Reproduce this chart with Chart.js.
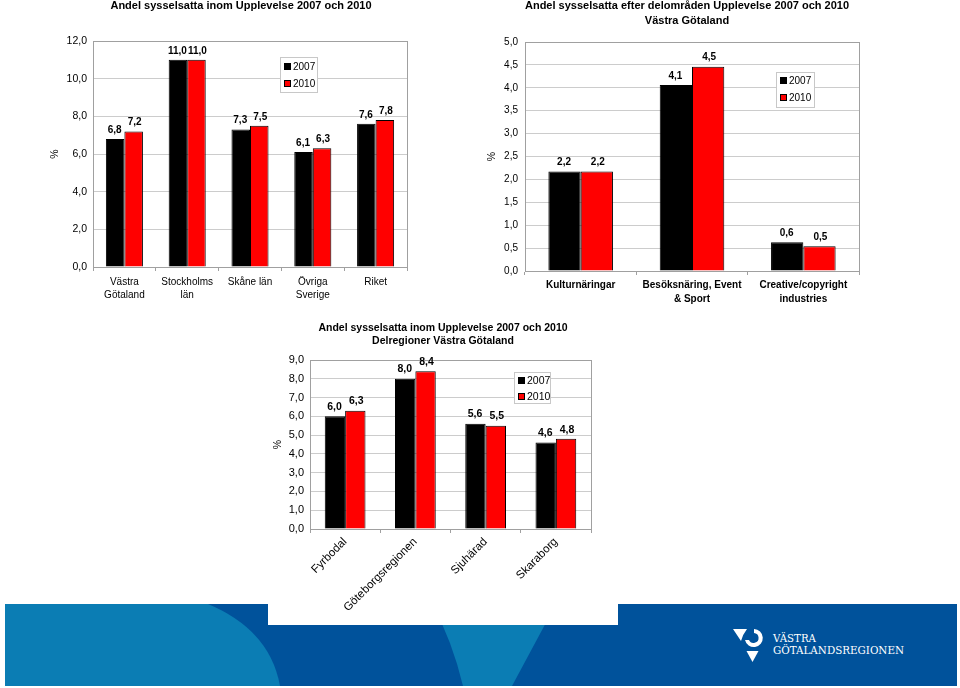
<!DOCTYPE html>
<html>
<head>
<meta charset="utf-8">
<script src="https://cdn.jsdelivr.net/npm/chart.js@4.4.1/dist/chart.umd.min.js"></script>
<style>
  html, body { margin: 0; padding: 0; background: #fff; }
  body { width: 960px; height: 688px; position: relative; overflow: hidden; font-family: "Liberation Sans", Arial, sans-serif; }
  .box { position: absolute; }
  .title { position: absolute; width: 420px; text-align: center; font-weight: bold; color: #000; white-space: nowrap; }
  #band { position: absolute; left: 0; top: 0; z-index: 0; }
  #c1, #c2 { z-index: 1; }
  #c3 { z-index: 2; background: #fff; }
  .title { z-index: 3; }
</style>
</head>
<body>

<svg id="band" width="960" height="688">
  <rect x="5" y="604" width="952" height="82" fill="#00529b"/>
  <path d="M5 604 H208 Q270 630 280 686 H5 Z" fill="#0b7db4"/>
  <path d="M432 604 H556 L512 686 H463 Q452 640 432 604 Z" fill="#0b7db4"/>
  <g fill="#fff">
    <path d="M733 629 L747 629 Q743 634 741 641 Z"/>
    <path d="M754 629 A9 9 0 1 1 745 640 L749 640 A5 5 0 1 0 754 633 Z"/>
    <path d="M746.5 651 L758.5 651 L752.5 662 Z"/>
  </g>
  <g fill="#fff" font-family="DejaVu Serif, serif" font-size="10.5">
    <text x="773" y="642" textLength="43" lengthAdjust="spacingAndGlyphs">VÄSTRA</text>
    <text x="773" y="654" textLength="131" lengthAdjust="spacingAndGlyphs">GÖTALANDSREGIONEN</text>
  </g>
</svg>

<div class="title" style="left:31px;top:-2px;font-size:11px;line-height:14px;">Andel sysselsatta inom Upplevelse 2007 och 2010</div>
<div class="title" style="left:477px;top:-2.5px;font-size:11px;line-height:15px;">Andel sysselsatta efter delområden Upplevelse 2007 och 2010<br>Västra Götaland</div>
<div class="title" style="left:233px;top:320.5px;font-size:10.5px;line-height:13px;">Andel sysselsatta inom Upplevelse 2007 och 2010<br>Delregioner Västra Götaland</div>

<div class="box" id="c1" style="left:0;top:0;width:480px;height:310px;"><canvas id="chart1"></canvas></div>
<div class="box" id="c2" style="left:480px;top:0;width:480px;height:310px;"><canvas id="chart2"></canvas></div>
<div class="box" id="c3" style="left:268px;top:310px;width:350px;height:315px;"><canvas id="chart3"></canvas></div>

<script>
// series names
var years = ['2007', '2010'];

// chart 1: regions
var regions = [['Västra', 'Götaland'], ['Stockholms', 'län'], 'Skåne län', ['Övriga', 'Sverige'], 'Riket'];
var regions2007 = [6.8, 11.0, 7.3, 6.1, 7.6];
var regions2010 = [7.2, 11.0, 7.5, 6.3, 7.8];

// chart 2: sub areas, Västra Götaland
var areas = ['Kulturnäringar', ['Besöksnäring, Event', '& Sport'], ['Creative/copyright', 'industries']];
var areas2007 = [2.17, 4.06, 0.63];
var areas2010 = [2.17, 4.46, 0.54];

// chart 3: sub regions
var subRegions = ['Fyrbodal', 'Göteborgsregionen', 'Sjuhärad', 'Skaraborg'];
var sub2007 = [6.0, 8.0, 5.6, 4.6];
var sub2010 = [6.3, 8.4, 5.5, 4.8];

var FONT = '"Liberation Sans", Arial, sans-serif';
Chart.defaults.font.family = FONT;
Chart.defaults.color = '#000';

function comma(v) {
  return Number(v).toFixed(1).replace('.', ',');
}

// value labels above bars
var barValues = {
  id: 'barValues',
  afterDatasetsDraw: function (chart, args, opts) {
    var ctx = chart.ctx;
    ctx.save();
    ctx.font = 'bold ' + opts.size + 'px ' + FONT;
    ctx.fillStyle = '#000';
    ctx.textAlign = 'center';
    ctx.textBaseline = 'bottom';
    chart.data.datasets.forEach(function (ds, i) {
      chart.getDatasetMeta(i).data.forEach(function (bar, j) {
        var dx = i === 0 ? -0.5 : 1;
        ctx.fillText(comma(ds.data[j]), bar.x + dx, bar.y - 4);
      });
    });
    ctx.restore();
  }
};

// plot frame
var frame = {
  id: 'frame',
  beforeDatasetsDraw: function (chart) {
    var a = chart.chartArea, ctx = chart.ctx;
    ctx.save();
    ctx.strokeStyle = '#a0a0a0';
    ctx.lineWidth = 1;
    ctx.strokeRect(Math.round(a.left) + 0.5, Math.round(a.top) + 0.5, Math.round(a.right - a.left), Math.round(a.bottom - a.top));
    ctx.restore();
  }
};

// boxed legend inside plot
var boxLegend = {
  id: 'boxLegend',
  afterDraw: function (chart, args, opts) {
    var ctx = chart.ctx, a = chart.chartArea;
    var x = Math.round(a.left + opts.x), y = Math.round(a.top + opts.y);
    ctx.save();
    ctx.fillStyle = '#fff';
    ctx.fillRect(x, y, opts.w, opts.h);
    ctx.strokeStyle = '#c8c8c8';
    ctx.lineWidth = 1;
    ctx.strokeRect(x + 0.5, y + 0.5, opts.w, opts.h);
    ctx.font = opts.size + 'px ' + FONT;
    ctx.textBaseline = 'middle';
    chart.data.datasets.forEach(function (ds, i) {
      var cy = Math.round(y + opts.rows[i]);
      ctx.fillStyle = ds.backgroundColor;
      ctx.fillRect(x + 4, cy - 4, 7, 7);
      ctx.strokeStyle = '#000';
      ctx.strokeRect(x + 4.5, cy - 3.5, 6, 6);
      ctx.fillStyle = '#000';
      ctx.fillText(ds.label, x + 13, cy);
    });
    ctx.restore();
  }
};

function makeChart(id, labels, a, b, cfg) {
  return new Chart(document.getElementById(id), {
    type: 'bar',
    data: {
      labels: labels,
      datasets: [
        { label: years[0], data: a, backgroundColor: '#000000', borderColor: '#000', borderWidth: 1,
          categoryPercentage: cfg.cat, barPercentage: 1.0 },
        { label: years[1], data: b, backgroundColor: '#ff0000', borderColor: '#000', borderWidth: 1,
          categoryPercentage: cfg.cat, barPercentage: 1.0 }
      ]
    },
    options: {
      responsive: true,
      maintainAspectRatio: false,
      animation: false,
      layout: { padding: cfg.padding },
      plugins: {
        legend: { display: false },
        tooltip: { enabled: false },
        title: { display: false },
        barValues: { size: cfg.valueSize },
        boxLegend: cfg.legend
      },
      scales: {
        x: {
          grid: { display: true, drawOnChartArea: false, drawTicks: true, tickLength: 4, color: '#a0a0a0', offset: true },
          border: { display: true, color: '#a0a0a0' },
          ticks: {
            font: { size: cfg.xSize, weight: cfg.xWeight, lineHeight: cfg.xLine },
            padding: cfg.xPad,
            autoSkip: false,
            maxRotation: cfg.rot, minRotation: cfg.rot
          },
          afterFit: function (s) { s.height = cfg.xHeight; }
        },
        y: {
          min: 0, max: cfg.max,
          grid: { color: '#cccccc', drawTicks: false },
          border: { display: true, color: '#a0a0a0' },
          ticks: { stepSize: cfg.step, padding: cfg.yPad, font: { size: cfg.ySize }, callback: function (v) { return comma(v); } },
          title: { display: true, text: '%', font: { size: 10.5 }, padding: { top: 4, bottom: 0 } },
          afterFit: function (s) { s.width = cfg.yWidth; }
        }
      }
    },
    plugins: [frame, barValues, boxLegend]
  });
}

makeChart('chart1', regions, regions2007, regions2010, {
  cat: 0.59, padding: { left: 45, top: 41, right: 73, bottom: 0 },
  yWidth: 48, xHeight: 43, max: 12, step: 2, ySize: 10.5, yPad: 6,
  xSize: 10, xWeight: 'normal', xLine: 1.35, xPad: 4, rot: 0, valueSize: 10,
  legend: { x: 187, y: 16, w: 37, h: 35, rows: [9.5, 27], size: 10 }
});

makeChart('chart2', areas, areas2007, areas2010, {
  cat: 0.58, padding: { left: 2, top: 42, right: 101, bottom: 0 },
  yWidth: 43, xHeight: 39, max: 5, step: 0.5, ySize: 10, yPad: 7,
  xSize: 10, xWeight: 'bold', xLine: 1.4, xPad: 3, rot: 0, valueSize: 10,
  legend: { x: 251, y: 30, w: 38, h: 35, rows: [8.5, 26], size: 10 }
});

makeChart('chart3', subRegions, sub2007, sub2010, {
  cat: 0.58, padding: { left: 0, top: 50, right: 27, bottom: 0 },
  yWidth: 42, xHeight: 96, max: 9, step: 1, ySize: 11, yPad: 6,
  xSize: 11.5, xWeight: 'normal', xLine: 1.2, xPad: 2, rot: 45, valueSize: 10.5,
  legend: { x: 204, y: 12, w: 36, h: 31, rows: [8.5, 24.5], size: 10.5 }
});
</script>
</body>
</html>
